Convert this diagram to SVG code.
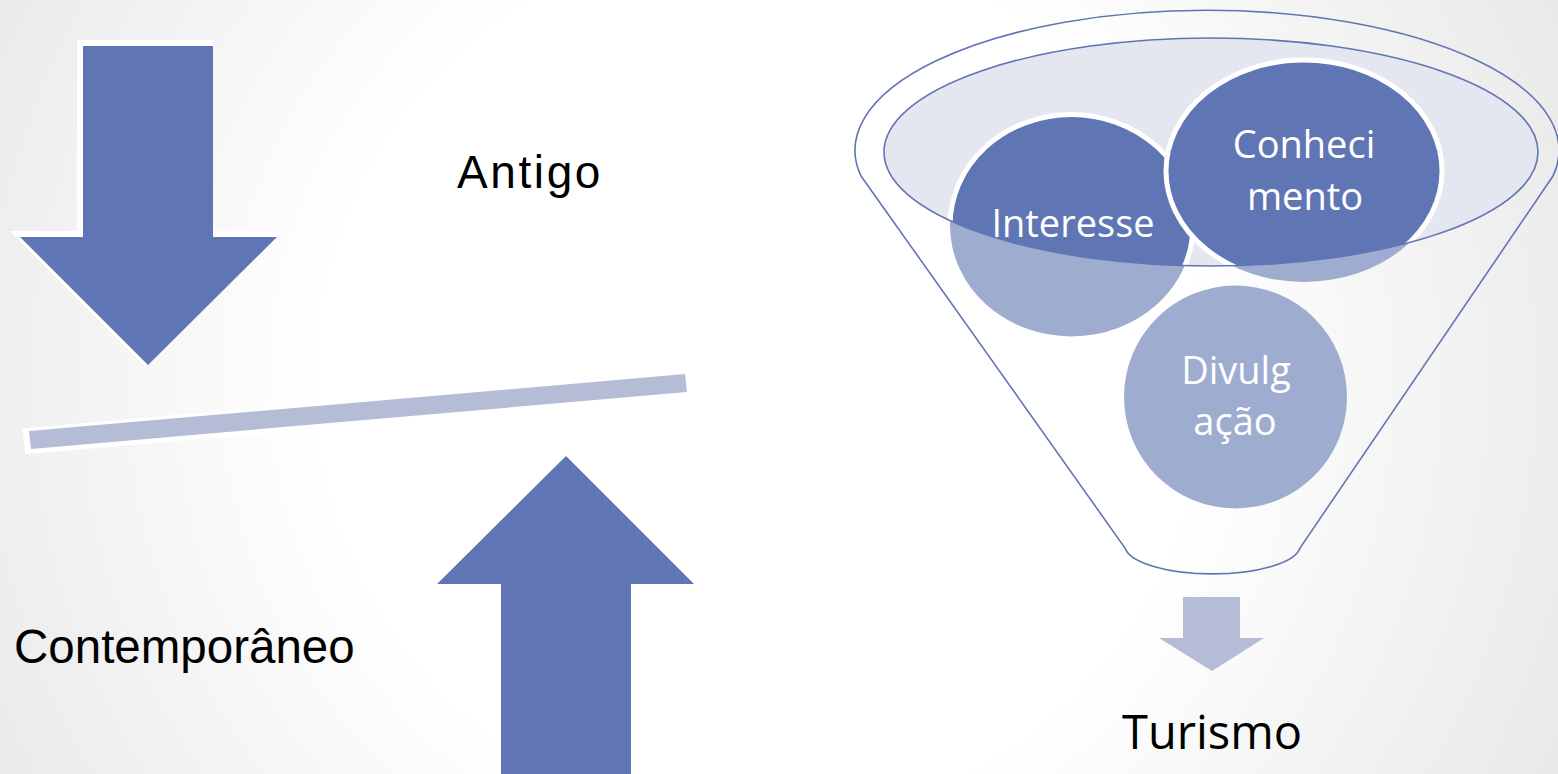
<svg xmlns="http://www.w3.org/2000/svg" width="1558" height="774" viewBox="0 0 1558 774">
<defs>
<radialGradient id="bg" gradientUnits="userSpaceOnUse" cx="760" cy="380" r="880">
<stop offset="0.5" stop-color="#ffffff"/>
<stop offset="1" stop-color="#e9e9e9"/>
</radialGradient>
<clipPath id="topEll"><ellipse cx="1211" cy="152" rx="327" ry="114"/></clipPath>
<style>
.dark{fill:#6076b4}
.glow{fill:#ffffff;stroke:#ffffff;stroke-width:6;stroke-linejoin:miter;stroke-miterlimit:10}
.bar{fill:#b4bcd6}
.light{fill:#9eacd0}
.ring{fill:#6076b4;stroke:#ffffff;stroke-width:5}
.line{fill:none;stroke:#6076b4;stroke-width:1.6}
.lbl{font-family:"Liberation Sans",Arial,sans-serif;fill:#000000}
.clbl{font-family:"Open Sans","Liberation Sans",sans-serif;fill:#ffffff;font-size:38px;text-anchor:middle}
</style>
</defs>
<rect x="0" y="0" width="1558" height="774" fill="url(#bg)"/>

<g id="arrow-down">
<polygon class="glow" transform="translate(-3,-3)" points="83,46 213,46 213,237 277,237 148,365 20,237 83,237"/>
<polygon class="dark" points="83,46 213,46 213,237 277,237 148,365 20,237 83,237"/>
</g>
<g id="balance-bar">
<polygon class="glow" transform="translate(-2,1)" style="stroke-width:8" points="29,431 685,374 687,392 31,449"/>
<polygon class="bar" points="29,431 685,374 687,392 31,449"/>
</g>
<g id="arrow-up">
<polygon class="glow" transform="translate(-3,-3)" points="566,456 694,584 631,584 631,780 501,780 501,584 437,584"/>
<polygon class="dark" points="566,456 694,584 631,584 631,780 501,780 501,584 437,584"/>
</g>
<g id="label-antigo">
<text class="lbl" x="457" y="188" font-size="46" letter-spacing="2.6">Antigo</text>
</g>
<g id="label-contemporaneo">
<text class="lbl" x="14" y="663" font-size="47.5">Contemporâneo</text>
</g>

<g id="funnel">
<ellipse cx="1211" cy="152" rx="327" ry="114" fill="#e4e7f0"/>
<g id="node-interesse">
<ellipse class="light" cx="1071.5" cy="225.5" rx="121.5" ry="111"/>
<ellipse class="ring" cx="1071.5" cy="225.5" rx="121.5" ry="111" clip-path="url(#topEll)"/>
</g>
<g id="node-conhecimento">
<ellipse class="light" cx="1304" cy="171" rx="138" ry="111"/>
<ellipse class="ring" cx="1304" cy="171" rx="138" ry="111" clip-path="url(#topEll)"/>
</g>
<g id="node-divulgacao">
<circle class="light" cx="1235.5" cy="397" r="111.5"/>
</g>
<ellipse class="line" cx="1211" cy="152" rx="327" ry="114"/>
<path class="line" d="M861,176 A352,140 0 1 1 1553,176 L1300,548 A88,29 0 0 1 1125,548 Z"/>
<text class="clbl" x="1073" y="237">Interesse</text>
<text class="clbl" x="1304" y="158">Conheci</text>
<text class="clbl" x="1305" y="210">mento</text>
<text class="clbl" x="1236" y="384">Divulg</text>
<text class="clbl" x="1235" y="435">ação</text>
</g>

<g id="connectors">
<polygon class="bar" points="1183,597 1240,597 1240,638 1264,638 1212,671 1159,638 1183,638"/>
</g>
<g id="label-turismo">
<text x="1212" y="749" font-family="'Open Sans','Liberation Sans',sans-serif" font-size="47" text-anchor="middle" fill="#000000">Turismo</text>
</g>
</svg>
